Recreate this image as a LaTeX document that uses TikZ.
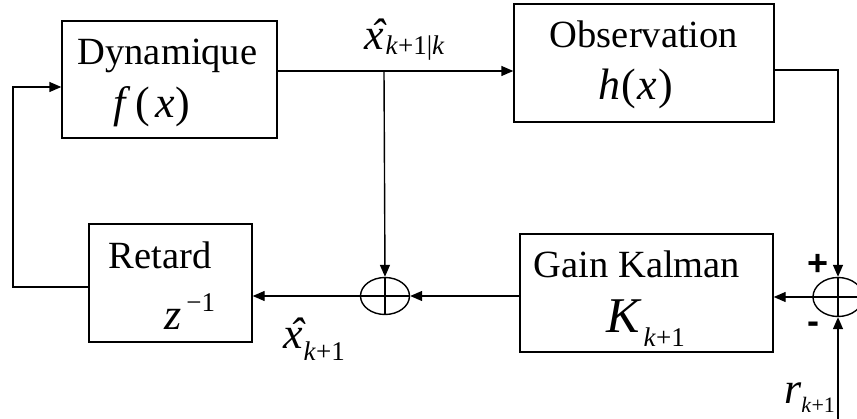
\documentclass[tikz,border=0pt]{standalone}
\usepackage{fontspec}
\setmainfont{Liberation Serif}
\newfontfamily\plusfont{Liberation Sans}
\usetikzlibrary{arrows.meta,shapes.geometric}
\newcommand\bigtxt{\fontsize{38.5}{40}\selectfont}
\newcommand\mathtxt{\fontsize{44}{46}\selectfont}
\newcommand\subtxt{\fontsize{27}{28}\selectfont}
\newcommand\xh{\makebox[0pt][l]{\kern6pt\textit{\symbol{"02C6}}}\textit{x}}
\begin{document}
\begin{tikzpicture}[x=1pt,y=-1pt,
  blk/.style={draw, line width=1.4pt, inner sep=0pt},
  sumnode/.style={draw, ellipse, line width=1.4pt, inner sep=0pt, minimum width=49pt, minimum height=37pt},
  conn/.style={line width=1.4pt},
  arr/.style={conn, -{Triangle[length=12pt,width=10pt]}},
  lbl/.style={inner sep=0pt, anchor=base},
  lblw/.style={inner sep=0pt, anchor=base west},
  sgn/.style={inner sep=0pt, font=\plusfont\bfseries\fontsize{36}{36}\selectfont}]
\useasboundingbox (0,0) rectangle (857,419);
\clip (0,0) rectangle (857,419);
% blocks
\node[blk, minimum width=215pt, minimum height=117pt] (dyn) at (169.5,79.5) {};
\node[blk, minimum width=260pt, minimum height=118pt] (obs) at (644,63) {};
\node[blk, minimum width=163pt, minimum height=118pt] (ret) at (170.5,283) {};
\node[blk, minimum width=253pt, minimum height=118pt] (gain) at (646.5,293) {};
\node[sumnode] (s1) at (385,296) {};
\node[sumnode, minimum width=50pt, minimum height=39pt] (s2) at (838,297) {};
\draw[conn] (s1.north) -- (s1.south) (s1.west) -- (s1.east);
\draw[conn] (s2.north) -- (s2.south) (s2.west) -- (s2.east);
% texts in blocks
\node[lbl, font=\bigtxt] (tdyn) at (167.5,65) {Dynamique};
\node[lblw, font=\mathtxt] (tf) at (113,118) {\textit{f}\kern5pt(\kern5pt\textit{x}\kern1pt)};
\node[lbl, font=\bigtxt] (tobs) at (644,48) {Observation};
\node[lblw, font=\mathtxt] (th) at (598,100) {\textit{h}\kern1pt(\kern2pt\textit{x}\kern1pt)};
\node[lbl, font=\bigtxt] (tret) at (160,269) {Retard};
\node[lblw, font=\mathtxt] (tz) at (164,330) {\textit{z}\raisebox{18pt}{\subtxt\kern5pt\textminus1}};
\node[lbl, font=\bigtxt] (tgain) at (637,278) {Gain Kalman};
\node[lblw, font=\fontsize{50}{50}\selectfont] (tk) at (606,333) {\textit{K}\raisebox{-14pt}{\subtxt\kern2pt\textit{k}+1}};
% signal labels
\node[lblw, font=\mathtxt] (lxp) at (364,50) {\xh\raisebox{-5pt}{\subtxt\kern2pt\textit{k}+1|\textit{k}}};
\node[lblw, font=\mathtxt] (lxe) at (283,349) {\xh\raisebox{-12pt}{\subtxt\kern1pt\textit{k}+1}};
\node[lblw, font=\mathtxt] (lr) at (784,404) {\textit{r}\raisebox{-9pt}[0pt][0pt]{\fontsize{22}{22}\selectfont\textit{k}+1}};
\node[sgn] (plus) at (818.5,265) {+};
\node[sgn] (minus) at (813.5,328) {-};
% connectors
\coordinate (tap) at (384,71);
\coordinate (oc) at (838,70);
\coordinate (rin) at (838,419);
\coordinate (fl) at (13,87);
\draw[conn] (dyn.east |- tap) -- (tap);
\draw[arr] (tap) -- (obs.west |- tap);
\draw[arr] (tap) -- (s1.north);
\draw[arr] (obs.east |- oc) -- (oc) -- (s2.north);
\draw[arr] (rin) -- (s2.south);
\draw[arr] (s2.west) -- (gain.east |- s2.west);
\draw[arr] (gain.west |- s1.east) -- (s1.east);
\draw[arr] (s1.west) -- (ret.east |- s1.west);
\draw[arr] (ret.west |- 0,287) -- (fl |- 0,287) -- (fl) -- (dyn.west |- fl);
\end{tikzpicture}
\end{document}
